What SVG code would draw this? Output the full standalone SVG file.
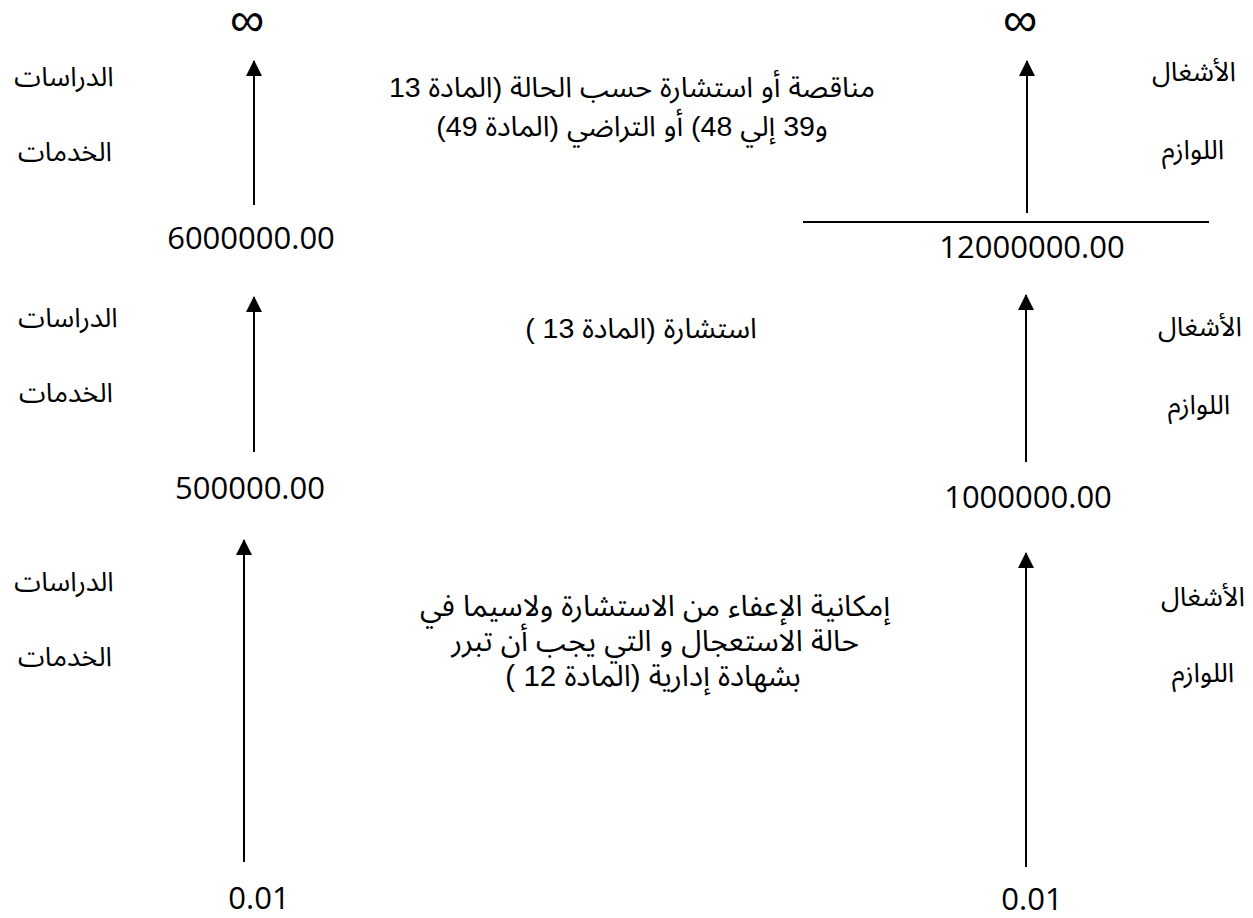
<svg xmlns="http://www.w3.org/2000/svg" width="1253" height="918" viewBox="0 0 1253 918">
<style>
.ar{font-family:"Liberation Sans","Noto Sans Arabic","DejaVu Sans",sans-serif;font-size:27px;fill:#000;text-anchor:middle;direction:rtl}
.mid{font-family:"Liberation Sans","Noto Sans Arabic","DejaVu Sans",sans-serif;font-size:28.5px;fill:#000;text-anchor:middle;direction:rtl}
.low{font-size:29.5px}
.num{font-family:"Open Sans","Liberation Sans",sans-serif;font-size:31px;fill:#000;text-anchor:middle}
.inf{font-family:"Liberation Sans",sans-serif;font-size:48px;fill:#000;text-anchor:middle}
.ax{stroke:#000;stroke-width:2;fill:none;marker-end:url(#ah)}
</style>
<defs>
<marker id="ah" viewBox="0 0 16 16" refX="15" refY="8" markerWidth="16" markerHeight="16" markerUnits="userSpaceOnUse" orient="auto">
<path d="M0,0 L16,8 L0,16 Z" fill="#000"/>
</marker>
</defs>
<rect width="1253" height="918" fill="#fff"/>
<g id="connectors">
<line class="ax" x1="254" y1="205" x2="254" y2="61"/>
<line class="ax" x1="254" y1="452" x2="254" y2="297"/>
<line class="ax" x1="244" y1="862" x2="244" y2="540"/>
<line class="ax" x1="1027" y1="213" x2="1027" y2="61"/>
<line class="ax" x1="1026" y1="462" x2="1026" y2="295"/>
<line class="ax" x1="1026" y1="867" x2="1026" y2="553"/>
<line x1="803" y1="222" x2="1209" y2="222" stroke="#000" stroke-width="2"/>
</g>
<g id="inf-left"><text class="inf" x="247" y="36">∞</text></g>
<g id="inf-right"><text class="inf" x="1020" y="36">∞</text></g>
<g id="label-left-1"><text class="ar" x="64" y="86">الدراسات</text><text class="ar" x="65" y="161">الخدمات</text></g>
<g id="label-left-2"><text class="ar" x="68" y="327">الدراسات</text><text class="ar" x="66" y="402">الخدمات</text></g>
<g id="label-left-3"><text class="ar" x="64" y="591">الدراسات</text><text class="ar" x="65" y="666">الخدمات</text></g>
<g id="label-right-1"><text class="ar" x="1194" y="81">الأشغال</text><text class="ar" x="1193" y="159">اللوازم</text></g>
<g id="label-right-2"><text class="ar" x="1200" y="336">الأشغال</text><text class="ar" x="1199" y="414">اللوازم</text></g>
<g id="label-right-3"><text class="ar" x="1203" y="606">الأشغال</text><text class="ar" x="1203" y="682">اللوازم</text></g>
<g id="text-top">
<text class="mid" x="632" y="97">مناقصة أو استشارة حسب الحالة (المادة 13</text>
<text class="mid" x="632" y="136">و39 إلي 48) أو التراضي (المادة 49)</text>
</g>
<g id="text-middle"><text class="mid" x="641" y="338">استشارة (المادة 13 )</text></g>
<g id="text-bottom">
<text class="mid low" x="655" y="616">إمكانية الإعفاء من الاستشارة ولاسيما في</text>
<text class="mid low" x="655" y="651">حالة الاستعجال و التي يجب أن تبرر</text>
<text class="mid low" x="653" y="686">بشهادة إدارية (المادة 12 )</text>
</g>
<g id="num-6m"><text class="num" x="251" y="249">6000000.00</text></g>
<g id="num-12m"><text class="num" x="1032" y="258">12000000.00</text></g>
<g id="num-500k"><text class="num" x="250" y="499">500000.00</text></g>
<g id="num-1m"><text class="num" x="1028" y="508">1000000.00</text></g>
<g id="num-001-left"><text class="num" x="259" y="909">0.01</text></g>
<g id="num-001-right"><text class="num" x="1032" y="910">0.01</text></g>
</svg>
